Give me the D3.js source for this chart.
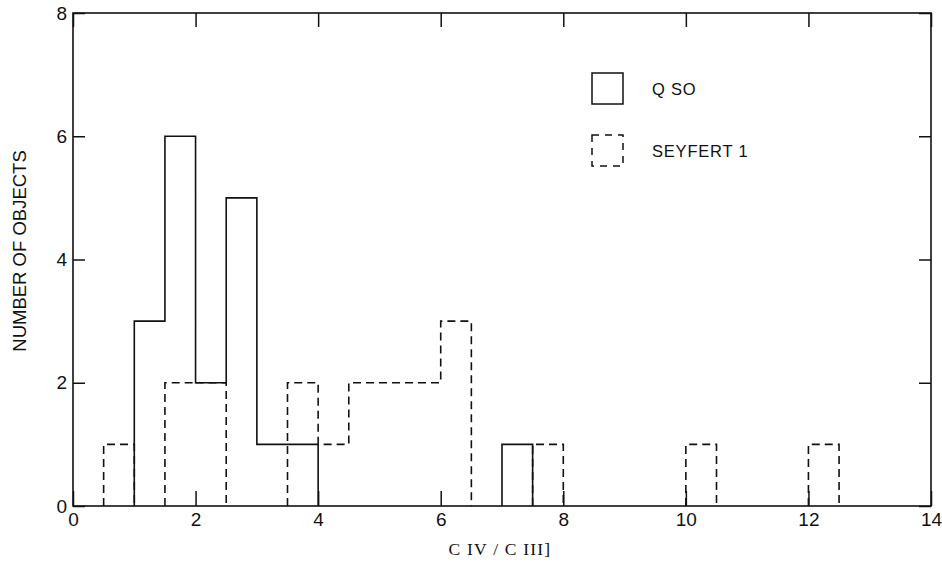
<!DOCTYPE html>
<html>
<head>
<meta charset="utf-8">
<script src="https://cdn.jsdelivr.net/npm/d3@7"></script>
<style>
  body { margin: 0; background: #fff; }
  svg { display: block; }
  .tick text { font-family: "Liberation Sans", Arial, sans-serif; font-size: 19px; fill: #111; }
</style>
</head>
<body>
<svg id="chart" width="942" height="564"></svg>
<script>
// histogram bins (left edge) and counts, bin width 0.5
let binWidth = 0.5;
let qsoBins   = [1.0, 1.5, 2.0, 2.5, 3.0, 3.5, 7.0];
let qsoCounts = [3, 6, 2, 5, 1, 1, 1];
let seyBins   = [0.5, 1.5, 2.0, 3.5, 4.0, 4.5, 5.0, 5.5, 6.0, 7.5, 10.0, 12.0];
let seyCounts = [1, 2, 2, 2, 1, 2, 2, 2, 3, 1, 1, 1];

let xTicks = [0, 2, 4, 6, 8, 10, 12, 14];
let yTicks = [0, 2, 4, 6, 8];

let svg = d3.select('#chart');

let x = d3.scaleLinear().domain([0, 14]).range([73, 931]);
let y = d3.scaleLinear().domain([0, 8]).range([506, 13]);

// turn bins into step outlines, one path per run of touching bins
function stepRuns(bins, counts) {
  let runs = [];
  let cur = null;
  bins.forEach((b, i) => {
    if (cur && Math.abs(cur.end - b) < 1e-9) {
      cur.pts.push([b, counts[i]]);
    } else {
      if (cur) runs.push(cur);
      cur = {pts: [[b, 0], [b, counts[i]]]};
    }
    cur.pts.push([b + binWidth, counts[i]]);
    cur.end = b + binWidth;
  });
  if (cur) runs.push(cur);
  runs.forEach(r => r.pts.push([r.end, 0]));
  return runs.map(r => r.pts);
}

let line = d3.line().x(d => x(d[0])).y(d => y(d[1]));

// seyfert first (dashed), qso on top (solid)
svg.selectAll('path.sey')
  .data(stepRuns(seyBins, seyCounts))
  .enter()
  .append('path')
  .attr('class', 'sey')
  .attr('d', line)
  .style('fill', 'none')
  .style('stroke', '#111')
  .style('stroke-width', '1.6px')
  .style('stroke-dasharray', '8,5');

svg.selectAll('path.qso')
  .data(stepRuns(qsoBins, qsoCounts))
  .enter()
  .append('path')
  .attr('class', 'qso')
  .attr('d', line)
  .style('fill', 'none')
  .style('stroke', '#111')
  .style('stroke-width', '1.6px');

// axes, ticks point inward
let axBottom = svg.append('g')
  .attr('transform', `translate(0,${y(0)})`)
  .call(d3.axisBottom(x).tickValues(xTicks).tickSize(-15).tickPadding(7));
let axTop = svg.append('g')
  .attr('transform', `translate(0,${y(8)})`)
  .call(d3.axisTop(x).tickValues(xTicks).tickSize(-14).tickFormat(''));
let axLeft = svg.append('g')
  .attr('transform', `translate(${x(0)},0)`)
  .call(d3.axisLeft(y).tickValues(yTicks).tickSize(-12).tickPadding(6));
let axRight = svg.append('g')
  .attr('transform', `translate(${x(14)},0)`)
  .call(d3.axisRight(y).tickValues(yTicks).tickSize(-12).tickFormat(''));

[axBottom, axTop, axLeft, axRight].forEach(g => {
  g.select('.domain').remove();
  g.selectAll('line').style('stroke', '#111').style('stroke-width', '1.5px');
});

svg.append('rect')
  .attr('x', x(0))
  .attr('y', y(8))
  .attr('width', x(14) - x(0))
  .attr('height', y(0) - y(8))
  .style('fill', 'none')
  .style('stroke', '#111')
  .style('stroke-width', '1.6px');

// axis titles
svg.append('text')
  .attr('transform', `translate(26,251) rotate(-90)`)
  .attr('text-anchor', 'middle')
  .style('font-family', '"Liberation Sans", Arial, sans-serif')
  .style('font-size', '18.5px')
  .style('fill', '#111')
  .text('NUMBER OF OBJECTS');

svg.append('text')
  .attr('x', 500)
  .attr('y', 555)
  .attr('text-anchor', 'middle')
  .style('font-family', '"Liberation Serif", "Times New Roman", serif')
  .style('font-size', '17.5px')
  .style('letter-spacing', '1.2px')
  .style('fill', '#111')
  .text('C IV / C III]');

// legend
let legendItems = [
  {label: 'Q SO', dash: null, y: 73},
  {label: 'SEYFERT 1', dash: '7,6', y: 135}
];
let legend = svg.selectAll('g.legend')
  .data(legendItems)
  .enter()
  .append('g')
  .attr('class', 'legend');

legend.append('rect')
  .attr('x', 592)
  .attr('y', d => d.y)
  .attr('width', 31)
  .attr('height', 31)
  .style('fill', 'none')
  .style('stroke', '#111')
  .style('stroke-width', '1.5px')
  .style('stroke-dasharray', d => d.dash);

legend.append('text')
  .attr('x', 652)
  .attr('y', d => d.y + 22)
  .style('font-family', '"Liberation Sans", Arial, sans-serif')
  .style('font-size', '16.5px')
  .style('letter-spacing', '0.8px')
  .style('fill', '#111')
  .text(d => d.label);
</script>
</body>
</html>
